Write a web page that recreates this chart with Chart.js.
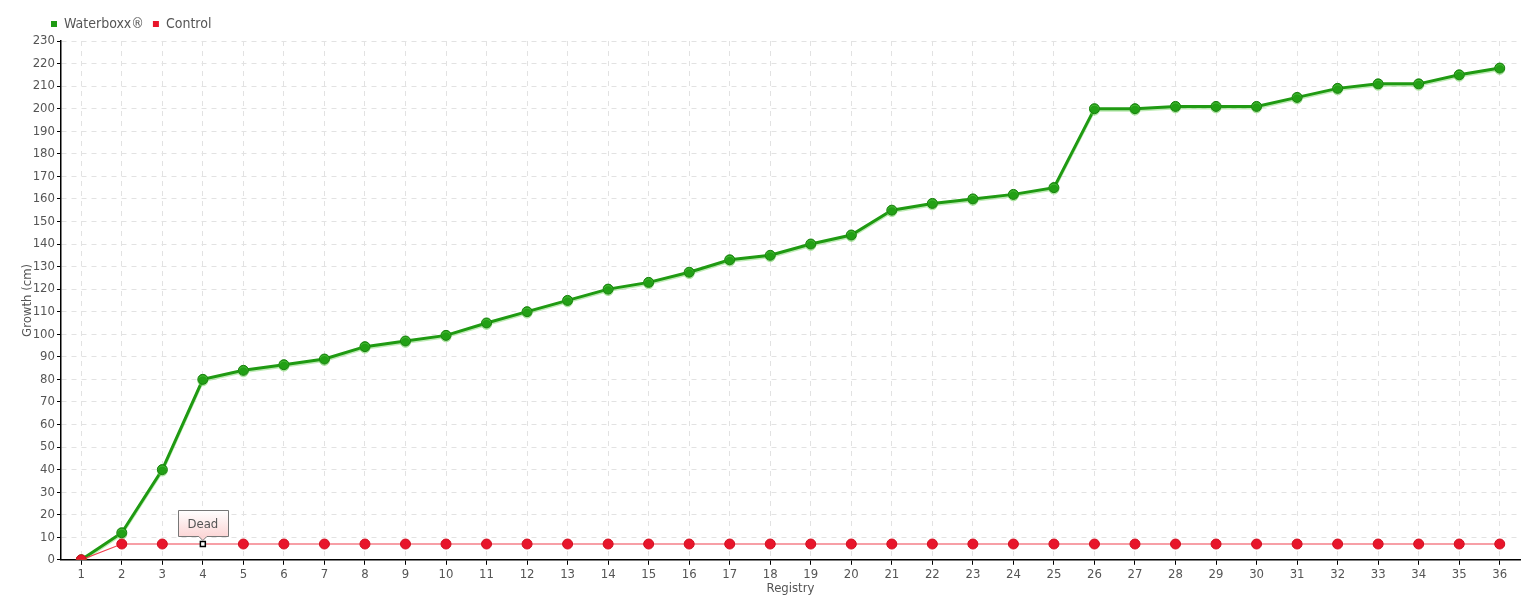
<!DOCTYPE html>
<html>
<head>
<meta charset="utf-8">
<script src="https://cdn.jsdelivr.net/npm/chart.js@4/dist/chart.umd.min.js"></script>
<style>
html,body{margin:0;padding:0;background:#fff;}
#wrap{width:1540px;height:600px;position:relative;}
</style>
</head>
<body>
<div id="wrap"><canvas id="c" width="1540" height="600"></canvas></div>
<script>
const registry = ['1','2','3','4','5','6','7','8','9','10','11','12','13','14','15','16','17','18','19','20','21','22','23','24','25','26','27','28','29','30','31','32','33','34','35','36'];
const waterboxx = [0,12,40,80,84,86.5,89,94.5,97,99.5,105,110,115,120,123,127.5,133,135,140,144,155,158,160,162,165,200,200,201,201,201,205,209,211,211,215,218];
const control = [0,7,7,7,7,7,7,7,7,7,7,7,7,7,7,7,7,7,7,7,7,7,7,7,7,7,7,7,7,7,7,7,7,7,7,7];
const seriesNames = ['Waterboxx®','Control'];
const annotationText = 'Dead';
const annotationIndex = 3;

const FONT = "'DejaVu Sans Condensed','DejaVu Sans',sans-serif";
const TXT = '#555';

const annotationPlugin = {
  id: 'deadNote',
  afterDatasetsDraw(chart) {
    const meta = chart.getDatasetMeta(1);
    const pt = meta.data[annotationIndex];
    if (!pt) return;
    const ctx = chart.ctx;
    const x = pt.x, y = pt.y;
    const w = 50, h = 26;
    const left = Math.round(x - w/2) + 0.5, top = Math.round(y - 34) + 0.5;
    ctx.save();
    const g = ctx.createLinearGradient(0, top, 0, top + h);
    g.addColorStop(0, '#ffffff');
    g.addColorStop(1, '#fcd6d6');
    ctx.beginPath();
    ctx.moveTo(left, top);
    ctx.lineTo(left + w, top);
    ctx.lineTo(left + w, top + h);
    ctx.lineTo(x + 4, top + h);
    ctx.lineTo(x, top + h + 4);
    ctx.lineTo(x - 4, top + h);
    ctx.lineTo(left, top + h);
    ctx.closePath();
    ctx.fillStyle = g;
    ctx.fill();
    ctx.strokeStyle = '#777';
    ctx.lineWidth = 1;
    ctx.stroke();
    ctx.fillStyle = TXT;
    ctx.font = "13px " + FONT;
    ctx.textAlign = 'center';
    ctx.textBaseline = 'middle';
    ctx.fillText(annotationText, x, top + h/2 + 1);
    ctx.restore();
  }
};

const shiftLegend = {
  id: 'shiftLegend',
  afterLayout(chart) {
    if (chart.legend) { chart.legend.left += 22; chart.legend.right += 22; }
  }
};

const greenShadow = {
  id: 'greenShadow',
  beforeDatasetDraw(chart, args) {
    if (args.index === 0) {
      const ctx = chart.ctx;
      ctx.save();
      ctx.shadowColor = 'rgba(110,210,90,0.45)';
      ctx.shadowOffsetX = 0;
      ctx.shadowOffsetY = 1.5;
      ctx.shadowBlur = 0;
    }
  },
  afterDatasetDraw(chart, args) {
    if (args.index === 0) chart.ctx.restore();
  }
};

new Chart(document.getElementById('c'), {
  type: 'line',
  data: {
    labels: registry,
    datasets: [
      {
        label: seriesNames[0],
        data: waterboxx,
        borderColor: '#1f9a12',
        backgroundColor: '#1f9a12',
        borderWidth: 3,
        pointRadius: 5,
        pointBackgroundColor: '#22a015',
        pointBorderColor: '#18800e',
        pointBorderWidth: 1,
        tension: 0,
        order: 2
      },
      {
        label: seriesNames[1],
        data: control,
        borderColor: '#f0404f',
        backgroundColor: '#e8152b',
        borderWidth: 1.2,
        pointRadius: (c) => c.dataIndex === annotationIndex ? 3.5 : 5,
        pointStyle: (c) => c.dataIndex === annotationIndex ? 'rect' : 'circle',
        pointBackgroundColor: (c) => c.dataIndex === annotationIndex ? '#ffffff' : '#e8152b',
        pointBorderColor: (c) => c.dataIndex === annotationIndex ? '#000000' : '#d01020',
        pointBorderWidth: (c) => c.dataIndex === annotationIndex ? 1.5 : 1,
        tension: 0,
        order: 1
      }
    ]
  },
  options: {
    responsive: false,
    animation: false,
    events: [],
    layout: { padding: { left: 20, right: 20, top: 8, bottom: 4 } },
    plugins: {
      legend: {
        display: true,
        align: 'start',
        labels: {
          boxWidth: 6, boxHeight: 6,
          padding: 9,
          color: TXT,
          font: { family: FONT, size: 14 },
          sort: (a, b) => a.datasetIndex - b.datasetIndex,
          generateLabels(chart) {
            return chart.data.datasets.map((ds, i) => ({
              text: ds.label,
              fillStyle: ds.backgroundColor,
              strokeStyle: ds.backgroundColor,
              lineWidth: 0,
              fontColor: TXT,
              hidden: false,
              datasetIndex: i
            }));
          }
        }
      },
      tooltip: { enabled: false }
    },
    scales: {
      x: {
        offset: true,
        grid: {
          offset: false,
          color: '#e2e2e2',
          lineWidth: 1,
          drawTicks: true,
          tickLength: 5,
          tickColor: '#000',
          tickBorderDash: []
        },
        border: { display: true, color: '#000', width: 1.5, dash: [5, 5] },
        ticks: { color: TXT, font: { family: FONT, size: 13 }, padding: 2, maxRotation: 0, autoSkip: false },
        title: { display: true, text: 'Registry', color: TXT, font: { family: FONT, size: 13 }, padding: { top: -4, bottom: 0 } }
      },
      y: {
        min: 0, max: 230,
        afterFit(scale) { scale.width = 41; },
        grid: {
          color: '#e2e2e2',
          lineWidth: 1,
          tickLength: 4,
          tickColor: '#000',
          tickBorderDash: []
        },
        border: { display: true, color: '#000', width: 1.5, dash: [5, 5] },
        ticks: { stepSize: 10, color: TXT, font: { family: FONT, size: 13 }, padding: 2 },
        title: { display: true, text: 'Growth (cm)', color: TXT, font: { family: FONT, size: 13 }, padding: { top: 0, bottom: 2 } }
      }
    }
  },
  plugins: [annotationPlugin, shiftLegend, greenShadow]
});
</script>
</body>
</html>
